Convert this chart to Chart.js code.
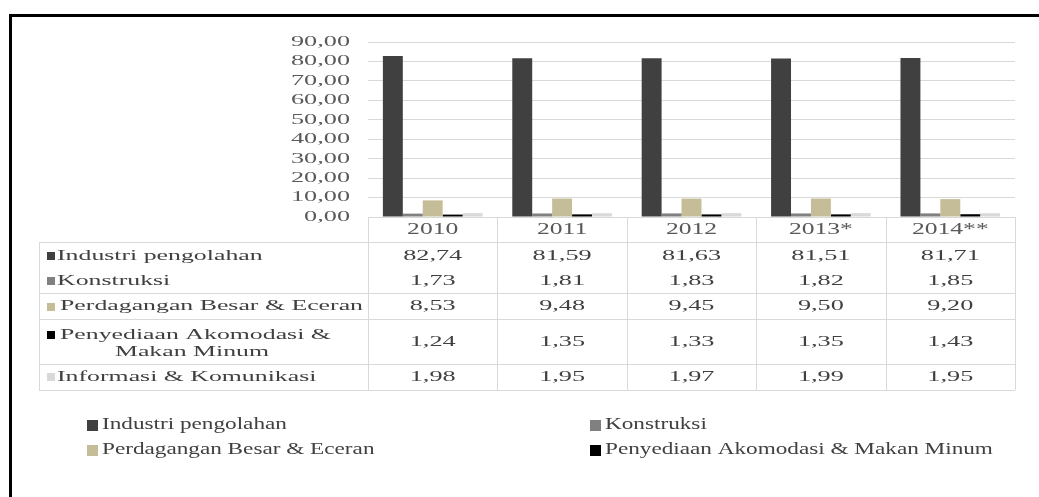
<!DOCTYPE html>
<html>
<head>
<meta charset="utf-8">
<script src="https://cdn.jsdelivr.net/npm/chart.js@4.4.1/dist/chart.umd.min.js"></script>
<style>
  html, body { margin: 0; padding: 0; background: #fff; }
  #wrap { width: 1039px; height: 497px; }
</style>
</head>
<body>
<div id="wrap"><canvas id="chart" width="1039" height="497"></canvas></div>
<script>
// data
const years = ['2010', '2011', '2012', '2013*', '2014**'];
const seriesNames = [
  'Industri pengolahan',
  'Konstruksi',
  'Perdagangan Besar & Eceran',
  'Penyediaan Akomodasi & Makan Minum',
  'Informasi & Komunikasi'
];
const industri = [82.74, 81.59, 81.63, 81.51, 81.71];
const konstruksi = [1.73, 1.81, 1.83, 1.82, 1.85];
const perdagangan = [8.53, 9.48, 9.45, 9.50, 9.20];
const akomodasi = [1.24, 1.35, 1.33, 1.35, 1.43];
const informasi = [1.98, 1.95, 1.97, 1.99, 1.95];
const yMax = 90;
const yStep = 10;

const colors = ['#404040', '#808080', '#C4BD97', '#000000', '#D9D9D9'];
const FONT = '"Liberation Serif", "DejaVu Serif", serif';

const fmt = v => v.toFixed(2).replace('.', ',');

// text is stretched horizontally, like in the original picture
function sText(ctx, str, x, y, align, sx) {
  ctx.save();
  ctx.translate(x, y);
  ctx.scale(sx, 1);
  ctx.textAlign = align;
  ctx.textBaseline = 'middle';
  ctx.fillText(str, 0, 0);
  ctx.restore();
}

const tablePlugin = {
  id: 'tablePlugin',
  afterDraw(chart) {
    const ctx = chart.ctx;
    const xs = chart.scales.x;
    const ys = chart.scales.y;
    const area = chart.chartArea;
    const colW = area.width / years.length;
    const tableLeft = 39;
    const headTop = area.bottom;

    // y tick labels
    ctx.save();
    ctx.font = '15px ' + FONT;
    ctx.fillStyle = '#595959';
    ys.ticks.forEach(t => {
      sText(ctx, fmt(t.value), 350, ys.getPixelForValue(t.value), 'right', 1.75);
    });
    ctx.restore();

    // table grid
    const rowLines = [242, 293, 319, 364, 390];
    ctx.save();
    ctx.strokeStyle = '#D9D9D9';
    ctx.lineWidth = 1;
    ctx.beginPath();
    ctx.moveTo(area.left, headTop + 0.5);
    ctx.lineTo(area.right, headTop + 0.5);
    rowLines.forEach(y => {
      ctx.moveTo(tableLeft, y + 0.5);
      ctx.lineTo(area.right, y + 0.5);
    });
    for (let i = 0; i <= years.length; i++) {
      const x = Math.round(area.left + i * colW) + 0.5;
      ctx.moveTo(x, headTop);
      ctx.lineTo(x, rowLines[rowLines.length - 1]);
    }
    ctx.moveTo(tableLeft + 0.5, rowLines[0]);
    ctx.lineTo(tableLeft + 0.5, rowLines[rowLines.length - 1]);
    ctx.stroke();
    ctx.restore();

    // header
    ctx.save();
    ctx.font = '16px ' + FONT;
    ctx.fillStyle = '#595959';
    years.forEach((yr, i) => {
      sText(ctx, yr, xs.getPixelForValue(i), 230, 'center', 1.6);
    });
    ctx.restore();

    // rows
    const rowY = [256, 281, 306.5, 342, 377];
    ctx.save();
    ctx.font = '15px ' + FONT;
    chart.data.datasets.forEach((ds, d) => {
      const y = rowY[d];
      ctx.fillStyle = ds.backgroundColor;
      const my = d === 3 ? 335 : y;
      ctx.fillRect(47, Math.round(my - 4), 8, 8);
      ctx.fillStyle = '#404040';
      if (d === 3) {
        sText(ctx, 'Penyediaan Akomodasi &', 60, 335, 'left', 1.72);
        sText(ctx, 'Makan Minum', 192, 352, 'center', 1.72);
      } else {
        sText(ctx, ds.label, d === 2 ? 60 : 57, y, 'left', 1.72);
      }
      ds.data.forEach((v, i) => {
        sText(ctx, fmt(v), xs.getPixelForValue(i), y, 'center', 1.75);
      });
    });
    ctx.restore();

    // legend (only the first four entries are visible in the picture)
    const legPos = [[87, 425], [590, 425], [87, 450], [590, 450]];
    ctx.save();
    ctx.font = '16px ' + FONT;
    chart.data.datasets.slice(0, 4).forEach((ds, d) => {
      const [lx, ly] = legPos[d];
      ctx.fillStyle = ds.backgroundColor;
      ctx.fillRect(lx, ly - 5, 11, 11);
      ctx.fillStyle = '#404040';
      sText(ctx, ds.label, lx + 15, ly, 'left', 1.45);
    });
    ctx.restore();

    // outer frame
    ctx.save();
    ctx.strokeStyle = '#000';
    ctx.lineWidth = 3;
    ctx.strokeRect(10.5, 15.5, 1200, 600);
    ctx.restore();
  }
};

const seriesValues = [industri, konstruksi, perdagangan, akomodasi, informasi];

new Chart(document.getElementById('chart'), {
  type: 'bar',
  data: {
    labels: years,
    datasets: seriesValues.map((vals, i) => ({
      label: seriesNames[i],
      data: vals,
      backgroundColor: colors[i],
      borderWidth: 0,
      barPercentage: 1,
      categoryPercentage: 0.77
    }))
  },
  options: {
    responsive: false,
    animation: false,
    devicePixelRatio: 1,
    layout: { padding: { top: 42, right: 24, bottom: 280, left: 0 } },
    plugins: { legend: { display: false }, tooltip: { enabled: false } },
    scales: {
      x: { display: false },
      y: {
        min: 0,
        max: yMax,
        ticks: { stepSize: yStep, display: false },
        grid: { color: '#D9D9D9', drawTicks: false },
        border: { display: false },
        afterFit(scale) { scale.width = 368; }
      }
    }
  },
  plugins: [tablePlugin]
});
</script>
</body>
</html>
